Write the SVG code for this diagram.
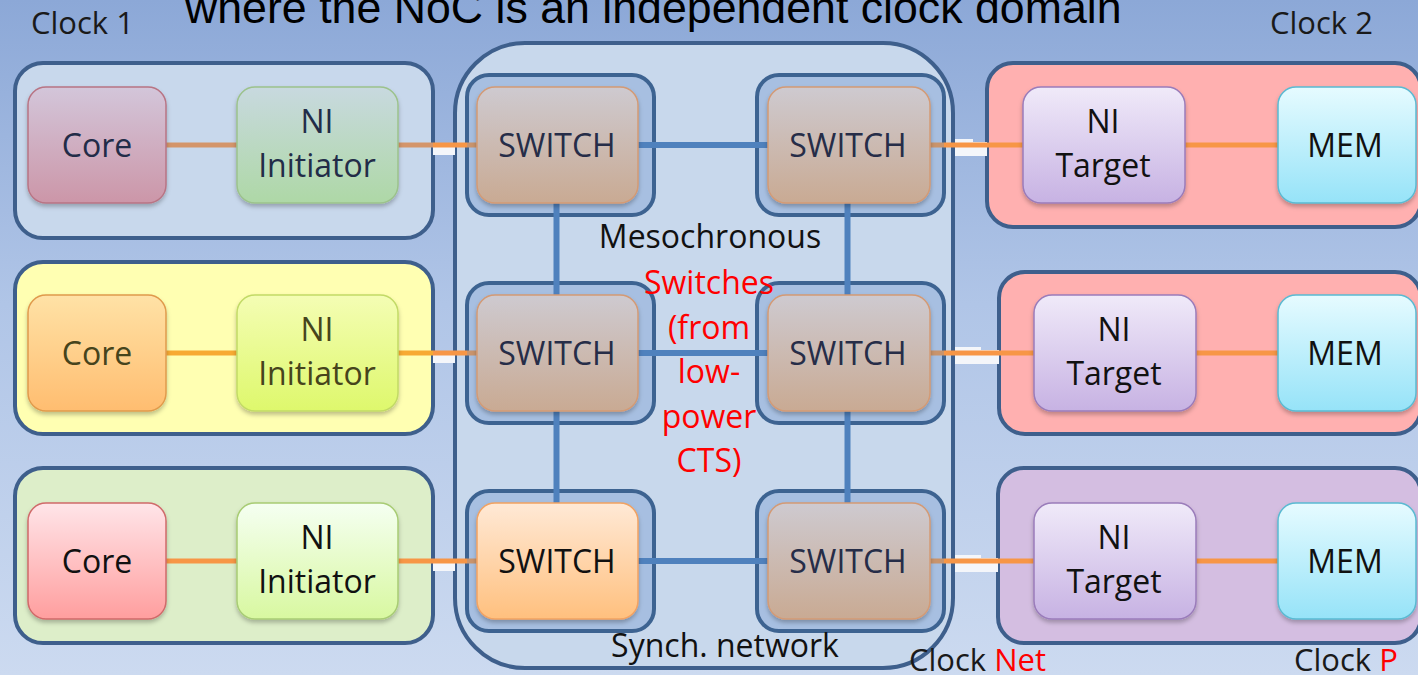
<svg xmlns="http://www.w3.org/2000/svg" width="1418" height="675" viewBox="0 0 1418 675">
<defs>
<linearGradient id="bg" x1="0" y1="0" x2="0" y2="1">
<stop offset="0" stop-color="#8CA8D7"/><stop offset="0.45" stop-color="#B0C5E7"/><stop offset="1" stop-color="#CCDAF0"/>
</linearGradient>
<linearGradient id="gSw" x1="0" y1="0" x2="0" y2="1"><stop offset="0" stop-color="#CECAD0"/><stop offset="1" stop-color="#C9AA93"/></linearGradient>
<linearGradient id="gSwO" x1="0" y1="0" x2="0" y2="1"><stop offset="0" stop-color="#FFE9D6"/><stop offset="1" stop-color="#FFC07E"/></linearGradient>
<linearGradient id="gCore1" x1="0" y1="0" x2="0" y2="1"><stop offset="0" stop-color="#D3C6DA"/><stop offset="1" stop-color="#CC96A8"/></linearGradient>
<linearGradient id="gCore2" x1="0" y1="0" x2="0" y2="1"><stop offset="0" stop-color="#FFE2A6"/><stop offset="1" stop-color="#FFBD70"/></linearGradient>
<linearGradient id="gCore3" x1="0" y1="0" x2="0" y2="1"><stop offset="0" stop-color="#FFE5E9"/><stop offset="1" stop-color="#FF9E9E"/></linearGradient>
<linearGradient id="gNi1" x1="0" y1="0" x2="0" y2="1"><stop offset="0" stop-color="#C8D9DF"/><stop offset="1" stop-color="#AED8A6"/></linearGradient>
<linearGradient id="gNi2" x1="0" y1="0" x2="0" y2="1"><stop offset="0" stop-color="#F4FDB4"/><stop offset="1" stop-color="#DEF86C"/></linearGradient>
<linearGradient id="gNi3" x1="0" y1="0" x2="0" y2="1"><stop offset="0" stop-color="#F5FFF2"/><stop offset="1" stop-color="#D8F8A0"/></linearGradient>
<linearGradient id="gNt" x1="0" y1="0" x2="0" y2="1"><stop offset="0" stop-color="#F0EAF9"/><stop offset="1" stop-color="#C7B2E3"/></linearGradient>
<linearGradient id="gMem" x1="0" y1="0" x2="0" y2="1"><stop offset="0" stop-color="#E6FBFF"/><stop offset="1" stop-color="#96E3F8"/></linearGradient>
<filter id="sh" x="-10%" y="-10%" width="120%" height="130%">
<feDropShadow dx="0" dy="3" stdDeviation="2" flood-color="#000" flood-opacity="0.25"/>
</filter>
</defs>
<style>
.cont{stroke:#3E5F8C;stroke-width:4}
.frame{fill:#A7BFE1;stroke:#3D6391;stroke-width:4}
.box{stroke-width:1.5;filter:url(#sh)}
.sw{fill:url(#gSw);stroke:#D49A74}
.t{font-family:"Open Sans","Noto Sans",sans-serif;font-size:32px;text-anchor:middle}
.clk{font-family:"Open Sans","Noto Sans",sans-serif;font-size:31px;fill:#1A1A1A}
.red{fill:#FF0000}
.bl{stroke:#4F81BD;stroke-width:6;fill:none}
.or{stroke:#F79646;stroke-width:5;fill:none}
.wh{fill:#F4F6FA}
</style>
<rect x="0" y="0" width="1418" height="675" fill="url(#bg)"/>
<text x="185" y="23" font-family="Liberation Sans, Arial, sans-serif" font-size="44.7" fill="#000">where the NoC is an independent clock domain</text>
<g id="domains">
<rect id="clk1-row1" class="cont" x="15" y="63" width="418" height="175" rx="28" fill="#C8D8EC"/>
<rect id="clk1-row2" class="cont" x="15" y="262" width="418" height="172" rx="28" fill="#FFFFB2"/>
<rect id="clk1-row3" class="cont" x="15" y="468" width="418" height="175" rx="28" fill="#DDEEC9"/>
<rect id="noc" class="cont" x="455" y="43" width="498" height="625" rx="70" fill="#C8D8EC"/>
<rect id="clk2-row1" class="cont" x="987" y="63" width="434" height="164" rx="26" fill="#FFB0B0"/>
<rect id="clk2-row2" class="cont" x="999" y="272" width="422" height="162" rx="26" fill="#FFB0B0"/>
<rect id="clkp-row3" class="cont" x="998" y="468" width="423" height="175" rx="26" fill="#D4BEE1"/>
</g>
<g id="frames">
<rect class="frame" x="467" y="75" width="187" height="140" rx="22"/>
<rect class="frame" x="757" y="75" width="187" height="140" rx="22"/>
<rect class="frame" x="467" y="283" width="187" height="140" rx="22"/>
<rect class="frame" x="757" y="283" width="187" height="140" rx="22"/>
<rect class="frame" x="467" y="491" width="187" height="140" rx="22"/>
<rect class="frame" x="757" y="491" width="187" height="140" rx="22"/>
</g>
<g id="connectors">
<rect class="wh" x="433" y="147" width="22" height="8"/>
<rect class="wh" x="433" y="355" width="22" height="8"/>
<rect class="wh" x="433" y="563" width="22" height="8"/>
<rect class="wh" x="955" y="139" width="18" height="17"/>
<rect class="wh" x="973" y="142" width="14" height="14"/>
<rect class="wh" x="955" y="347" width="26" height="17"/>
<rect class="wh" x="981" y="350" width="18" height="14"/>
<rect class="wh" x="955" y="555" width="26" height="17"/>
<rect class="wh" x="981" y="558" width="17" height="14"/>
<path d="M166 145H433" stroke="#D4956A" stroke-width="5"/>
<path d="M166 353H433" stroke="#F7AA32" stroke-width="5"/>
<path d="M166 561H433" stroke="#F79646" stroke-width="5"/>
<path class="or" d="M433 145H467M433 353H467M433 561H467"/>
<path d="M467 145H478M467 353H478M467 561H478" stroke="#C9946C" stroke-width="5"/>
<path d="M929 145H944M929 353H944M929 561H944" stroke="#C9946C" stroke-width="5"/>
<path class="or" d="M944 145H1024M944 353H1035M944 561H1035"/>
<path class="or" d="M1185 145H1279M1196 353H1279M1196 561H1279"/>
<path class="bl" d="M638 145H769M638 353H769M638 561H769"/>
<path class="bl" d="M556.5 203V296M556.5 411V504M847.5 203V296M847.5 411V504"/>
</g>
<g id="core1"><rect class="box" x="28" y="87" width="138" height="116" rx="18" fill="url(#gCore1)" stroke="#B87484"/><text class="t" x="97" y="157" fill="#222C48">Core</text></g>
<g id="core2"><rect class="box" x="28" y="295" width="138" height="116" rx="18" fill="url(#gCore2)" stroke="#E09A4C"/><text class="t" x="97" y="365" fill="#46441C">Core</text></g>
<g id="core3"><rect class="box" x="28" y="503" width="138" height="116" rx="18" fill="url(#gCore3)" stroke="#D06A6A"/><text class="t" x="97" y="573" fill="#111">Core</text></g>
<g id="ni-init1"><rect class="box" x="237" y="87" width="161" height="116" rx="18" fill="url(#gNi1)" stroke="#9CC28C"/><text class="t" x="317" y="133" fill="#222C48">NI</text><text class="t" x="317" y="177" fill="#222C48">Initiator</text></g>
<g id="ni-init2"><rect class="box" x="237" y="295" width="161" height="116" rx="18" fill="url(#gNi2)" stroke="#C2DA66"/><text class="t" x="317" y="341" fill="#46441C">NI</text><text class="t" x="317" y="385" fill="#46441C">Initiator</text></g>
<g id="ni-init3"><rect class="box" x="237" y="503" width="161" height="116" rx="18" fill="url(#gNi3)" stroke="#A8CC74"/><text class="t" x="317" y="549" fill="#111">NI</text><text class="t" x="317" y="593" fill="#111">Initiator</text></g>
<g id="sw11"><rect class="box sw" x="477" y="87" width="161" height="116" rx="18"/><text class="t" x="557" y="157" fill="#262D48">SWITCH</text></g>
<g id="sw12"><rect class="box sw" x="768" y="87" width="162" height="116" rx="18"/><text class="t" x="848" y="157" fill="#262D48">SWITCH</text></g>
<g id="sw21"><rect class="box sw" x="477" y="295" width="161" height="116" rx="18"/><text class="t" x="557" y="365" fill="#262D48">SWITCH</text></g>
<g id="sw22"><rect class="box sw" x="768" y="295" width="162" height="116" rx="18"/><text class="t" x="848" y="365" fill="#262D48">SWITCH</text></g>
<g id="sw31"><rect class="box" x="477" y="503" width="161" height="116" rx="18" fill="url(#gSwO)" stroke="#F2A262"/><text class="t" x="557" y="573" fill="#111">SWITCH</text></g>
<g id="sw32"><rect class="box sw" x="768" y="503" width="162" height="116" rx="18"/><text class="t" x="848" y="573" fill="#262D48">SWITCH</text></g>
<g id="ni-tgt1"><rect class="box" x="1023" y="87" width="162" height="116" rx="18" fill="url(#gNt)" stroke="#9A7CBA"/><text class="t" x="1103" y="133" fill="#111">NI</text><text class="t" x="1103" y="177" fill="#111">Target</text></g>
<g id="ni-tgt2"><rect class="box" x="1034" y="295" width="162" height="116" rx="18" fill="url(#gNt)" stroke="#9A7CBA"/><text class="t" x="1114" y="341" fill="#111">NI</text><text class="t" x="1114" y="385" fill="#111">Target</text></g>
<g id="ni-tgt3"><rect class="box" x="1034" y="503" width="162" height="116" rx="18" fill="url(#gNt)" stroke="#9A7CBA"/><text class="t" x="1114" y="549" fill="#111">NI</text><text class="t" x="1114" y="593" fill="#111">Target</text></g>
<g id="mem1"><rect class="box" x="1278" y="87" width="138" height="116" rx="18" fill="url(#gMem)" stroke="#5ABAD2"/><text class="t" x="1345" y="157" fill="#111">MEM</text></g>
<g id="mem2"><rect class="box" x="1278" y="295" width="138" height="116" rx="18" fill="url(#gMem)" stroke="#5ABAD2"/><text class="t" x="1345" y="365" fill="#111">MEM</text></g>
<g id="mem3"><rect class="box" x="1278" y="503" width="138" height="116" rx="18" fill="url(#gMem)" stroke="#5ABAD2"/><text class="t" x="1345" y="573" fill="#111">MEM</text></g>
<g id="labels">
<text class="clk" x="31" y="34">Clock 1</text>
<text class="clk" x="1270" y="34">Clock 2</text>
<text class="clk" x="909" y="671">Clock <tspan class="red">Net</tspan></text>
<text class="clk" x="1294" y="671">Clock <tspan class="red">P</tspan></text>
<text class="t" x="710" y="248" fill="#111">Mesochronous</text>
<text class="t red" x="709" y="294">Switches</text>
<text class="t red" x="709" y="339">(from</text>
<text class="t red" x="709" y="383">low-</text>
<text class="t red" x="709" y="428">power</text>
<text class="t red" x="709" y="472">CTS)</text>
<text class="t" x="725" y="657" fill="#111" font-size="31">Synch. network</text>
</g>
</svg>
